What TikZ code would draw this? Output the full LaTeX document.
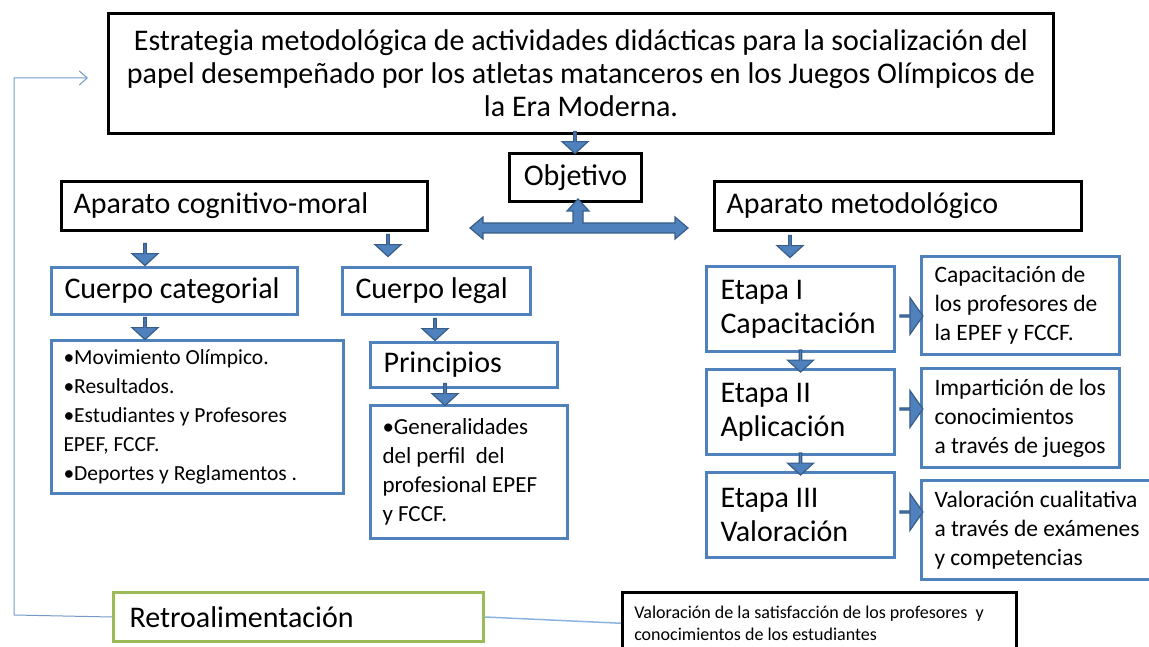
\documentclass[tikz,border=0pt]{standalone}
\usepackage{fontspec}
\setmainfont{Carlito}
\usetikzlibrary{shapes}
\usetikzlibrary{shapes.arrows}
\usetikzlibrary{arrows.meta}
\definecolor{boxblue}{HTML}{4F81BD}
\definecolor{arrowedge}{HTML}{385D8A}
\definecolor{boxgreen}{HTML}{9BBB59}
\definecolor{linkblue}{HTML}{8DB3E2}
\tikzset{
    titlebox/.style = {rectangle, line width=3pt, draw=black, fill=white, align=flush center, anchor=north west, font=\fontsize{30}{33}\selectfont, text=black},
    blackbox/.style = {rectangle, line width=3pt, draw=black, fill=white, align=flush left, anchor=north west, inner xsep=12pt, font=\fontsize{30}{33}\selectfont, text=black},
    bluebox/.style = {rectangle, line width=3pt, draw=boxblue, fill=white, align=flush left, anchor=north west, inner xsep=13pt, font=\fontsize{30}{34}\selectfont, text=black},
    blueboxs/.style = {bluebox, font=\fontsize{23.5}{29}\selectfont},
    greenbox/.style = {rectangle, line width=3pt, draw=boxgreen, fill=white, align=flush left, anchor=north west, inner xsep=16pt, font=\fontsize{30}{33}\selectfont, text=black},
    notebox/.style = {rectangle, line width=2.5pt, draw=black, fill=white, align=flush left, anchor=north west, inner xsep=12pt, font=\fontsize{18}{22}\selectfont, text=black},
    arrowd/.style = {single arrow, draw=arrowedge, fill=boxblue, line width=1.2pt, shape border rotate=270, minimum width=26pt, minimum height=22pt, single arrow head extend=6pt, single arrow tip angle=95, inner sep=0pt},
    arrowr/.style = {arrowd, shape border rotate=0, minimum width=37pt, minimum height=23pt, single arrow head extend=10pt, single arrow tip angle=110},
    linkn/.style = {-, line width=1.5pt, linkblue},
    feedn/.style = {-{Straight Barb[length=8pt,width=14pt]}, line width=1pt, boxblue!80}
}

\begin{document}
\begin{tikzpicture}[x=1pt,y=-1pt]
\useasboundingbox (0,0) rectangle (1149,647);

\node[titlebox, minimum width=945, minimum height=120] at (107,12) (title) {Estrategia metodológica de actividades didácticas para la socialización del\\papel desempeñado por los atletas matanceros en los Juegos Olímpicos de\\la Era Moderna.};
\node[blackbox, minimum width=132, minimum height=48] at (508,152) (obj) {Objetivo};
\node[blackbox, minimum width=366, minimum height=49, text width=342] at (60,180) (cog) {Aparato cognitivo-moral};
\node[blackbox, minimum width=367, minimum height=49, text width=343] at (713,180) (met) {Aparato metodológico};

\node[bluebox, minimum width=246, minimum height=47, text width=220] at (50,266) (cat) {Cuerpo categorial};
\node[bluebox, minimum width=188, minimum height=47, text width=162] at (341,266) (leg) {Cuerpo legal};
\node[blueboxs, minimum width=292, minimum height=153, text width=268, inner xsep=12pt, font=\fontsize{21.5}{29}\selectfont] at (50,339) (bul) {•Movimiento Olímpico.\\•Resultados.\\•Estudiantes y Profesores\\EPEF, FCCF.\\•Deportes y Reglamentos .};
\node[bluebox, minimum width=187, minimum height=45, text width=161] at (369,341) (pri) {Principios};
\node[blueboxs, minimum width=197, minimum height=133, text width=173, inner xsep=12pt, font=\fontsize{23}{29}\selectfont] at (369,404) (gen) {•Generalidades\\del perfil~ del\\profesional EPEF\\y FCCF.};

\node[bluebox, minimum width=188, minimum height=85, text width=160, inner xsep=14pt] at (705,265) (et1) {Etapa I\\Capacitación};
\node[bluebox, minimum width=188, minimum height=85, text width=160, inner xsep=14pt] at (705,368) (et2) {Etapa II\\Aplicación};
\node[bluebox, minimum width=188, minimum height=85, text width=160, inner xsep=14pt] at (705,471) (et3) {Etapa III\\Valoración};
\node[blueboxs, minimum width=198, minimum height=98, text width=172] at (920,255) (cap) {Capacitación de\\los profesores de\\la EPEF y FCCF.};
\node[blueboxs, minimum width=198, minimum height=99, text width=172] at (920,367) (imp) {Impartición de los\\conocimientos\\a través de juegos};
\node[blueboxs, minimum width=240, minimum height=99, text width=214] at (920,479) (val) {Valoración cualitativa\\a través de exámenes\\y competencias};

\node[greenbox, minimum width=370, minimum height=49, text width=338] at (112,591) (retro) {Retroalimentación};
\node[notebox, minimum width=394, minimum height=62, text width=370] at (621,591) (note) {Valoración de la satisfacción de los profesores~ y\\conocimientos de los estudiantes};

% block arrows
\node[arrowd] at (575,142) (a1) {};
\node[arrowd] at (145,254) (a2) {};
\node[arrowd] at (388,245) (a3) {};
\node[arrowd] at (145,328) (a4) {};
\node[arrowd] at (435,329) (a5) {};
\node[arrowd] at (445,394) (a6) {};
\node[arrowd] at (790,246) (a7) {};
\path (et1.south) -- (et2.north) node[arrowd, midway] (a8) {};
\path (et2.south) -- (et3.north) node[arrowd, midway] (a9) {};
\node[arrowr] at (911,316) (r1) {};
\node[arrowr] at (911,409) (r2) {};
\node[arrowr] at (911,512) (r3) {};

% double arrow below Objetivo
\draw[draw=arrowedge, fill=boxblue, line width=1.2pt, line join=miter]
  (470,228) -- (483,217) -- (483,223) -- (573,223) -- (573,211) -- (567,211) -- (578,199)
  -- (589,211) -- (583,211) -- (583,223) -- (675,223) -- (675,217) -- (688,228)
  -- (675,239) -- (675,233) -- (483,233) -- (483,239) -- cycle;

% feedback
\coordinate (fbin) at (88,78);
\draw[linkn] (retro.east) -- (note.west);
\draw[feedn] (retro.west) -- (14,615) -- (14,78) -- (fbin);

\end{tikzpicture}
\end{document}
